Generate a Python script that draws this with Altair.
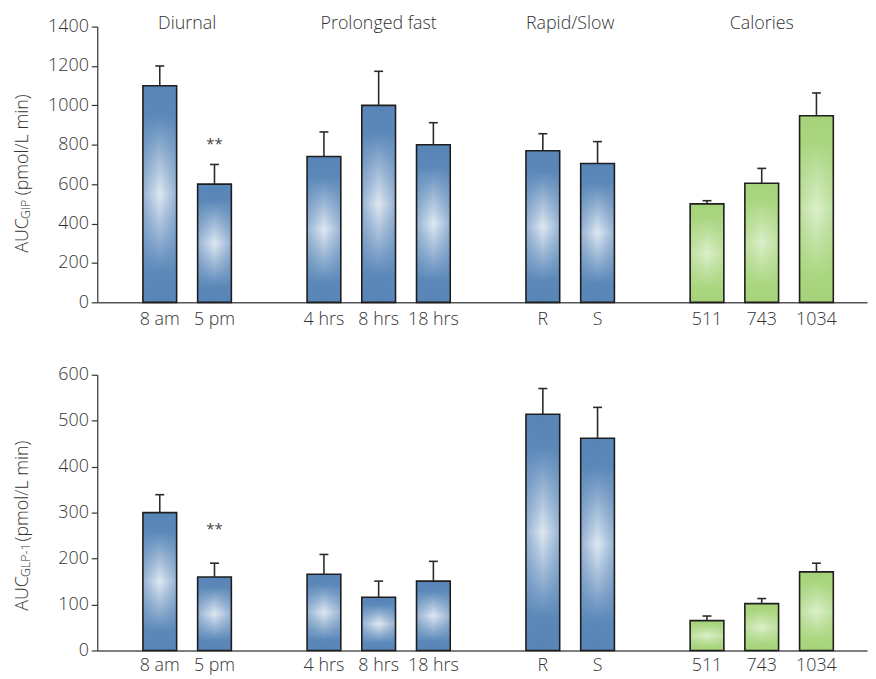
import altair as alt
import pandas as pd

# ---------------- data ----------------
groups = ["Diurnal", "Diurnal",
          "Prolonged fast", "Prolonged fast", "Prolonged fast",
          "Rapid/Slow", "Rapid/Slow",
          "Calories", "Calories", "Calories"]
labels = ["8 am", "5 pm", "4 hrs", "8 hrs", "18 hrs", "R", "S", "511", "743", "1034"]

gip_mean = [1100, 600, 740, 1000, 800, 770, 705, 500, 605, 947]
gip_sem = [100, 100, 125, 173, 112, 86, 111, 16, 75, 116]
gip_sig = ["", "**", "", "", "", "", "", "", "", ""]

glp1_mean = [300, 160, 166, 116, 151, 514, 462, 65, 102, 171]
glp1_sem = [39, 30, 43, 35, 43, 56, 67, 10, 11, 19]
glp1_sig = ["", "**", "", "", "", "", "", "", "", ""]

green_groups = ["Calories"]

# ---------------- layout helpers ----------------
FONT = "Open Sans"
TXT = "#333333"
FW = 300
PLOT_W = 776
PLOT_H = 278

# slot index along x: one empty slot between groups
slots = []
s = 0
for i, g in enumerate(groups):
    if i > 0 and g != groups[i - 1]:
        s += 1
    slots.append(s)
    s += 1


def vgrad(edge, mid, center):
    return {"gradient": "linear", "x1": 0, "y1": 0, "x2": 0, "y2": 1,
            "stops": [{"offset": 0, "color": edge},
                      {"offset": 0.14, "color": mid},
                      {"offset": 0.5, "color": center},
                      {"offset": 0.86, "color": mid},
                      {"offset": 1, "color": edge}]}


def hgrad(rgb, a):
    return {"gradient": "linear", "x1": 0, "y1": 0, "x2": 1, "y2": 0,
            "stops": [{"offset": 0, "color": f"rgba({rgb},{a})"},
                      {"offset": 0.5, "color": f"rgba({rgb},0)"},
                      {"offset": 1, "color": f"rgba({rgb},{a})"}]}


grads = {
    "blue": (vgrad("#5784B6", "#5B88B9", "#DFE8F2"), hgrad("91,136,185", 0.55)),
    "green": (vgrad("#A5D379", "#AAD680", "#DCEFCB"), hgrad("167,212,123", 0.55)),
}


def panel(mean, sem, sig, ymax, ystep, sub, sub_len, show_groups, star_dy, label_dy, title_start):
    tops = [m + e for m, e in zip(mean, sem)]
    df = pd.DataFrame({
        "group": groups, "label": labels, "slot": slots,
        "mean": mean, "top": tops, "sig": sig,
        "tone": ["green" if g in green_groups else "blue" for g in groups],
    })
    base = alt.Chart(df)
    xenc = alt.X("slot:Q",
                 scale=alt.Scale(domain=[-1.142, 12.924], nice=False, zero=False, padding=0),
                 axis=alt.Axis(labels=False, ticks=False, title=None, grid=False,
                               domainColor="#555555", domainWidth=1.5))
    yscale = alt.Scale(domain=[0, ymax], nice=False, zero=True)
    yaxis = alt.Axis(values=list(range(0, ymax + 1, ystep)), format="d", title=None, grid=False,
                     tickSize=6, labelPadding=3, domainColor=TXT, tickColor=TXT,
                     labelColor=TXT, labelFontSize=18, labelFont=FONT, labelFontWeight=FW,
                     domainWidth=1.2, tickWidth=1.2)
    layers = []
    for tone, (vg, hg) in grads.items():
        sub_base = base.transform_filter(alt.datum.tone == tone)
        layers.append(sub_base.mark_bar(orient="vertical", size=34, fill=vg).encode(
            x=xenc, y=alt.Y("mean:Q", scale=yscale, axis=yaxis)))
        layers.append(sub_base.mark_bar(orient="vertical", size=34, fill=hg,
                                        stroke="#1e1e1e", strokeWidth=1.6).encode(
            x=xenc, y=alt.Y("mean:Q", scale=yscale, axis=yaxis)))
    layers.append(base.mark_rule(color="#2b2b2b", strokeWidth=1.6).encode(
        x=xenc, y=alt.Y("mean:Q", scale=yscale, axis=yaxis), y2="top:Q"))
    layers.append(base.mark_tick(orient="horizontal", size=9, thickness=1.6,
                                 color="#2b2b2b", opacity=1).encode(
        x=xenc, y=alt.Y("top:Q", scale=yscale, axis=yaxis)))
    layers.append(base.transform_filter(alt.datum.sig != "").mark_text(
        dy=star_dy, fontSize=15, font=FONT, color="#444444", baseline="middle").encode(
        x=xenc, y=alt.Y("top:Q", scale=yscale, axis=yaxis), text="sig:N"))
    layers.append(base.mark_text(fontSize=18, font=FONT, fontWeight=FW, color=TXT,
                                 baseline="middle").encode(
        x=xenc, y=alt.value(PLOT_H + label_dy), text="label:N"))
    if show_groups:
        layers.append(base.transform_aggregate(slot="mean(slot)", groupby=["group"]).mark_text(
            fontSize=18, font=FONT, fontWeight=FW, color=TXT, baseline="middle").encode(
            x=xenc, y=alt.value(-3), text="group:N"))
    # y-axis title with subscript, built from text pieces
    parts = [("AUC", 18, -70, title_start),
             (sub, 12.5, -68, title_start - 34),
             ("(pmol/L min)", 18, -70, title_start - 34 - sub_len - 5)]
    for t, fs, px, py in parts:
        layers.append(alt.Chart(pd.DataFrame({"t": [t]})).mark_text(
            angle=270, align="left", baseline="alphabetic", fontSize=fs, font=FONT,
            fontWeight=FW, color=TXT).encode(
            text="t:N", x=alt.value(px), y=alt.value(py)))
    return alt.layer(*layers).properties(width=PLOT_W, height=PLOT_H)


top = panel(gip_mean, gip_sem, gip_sig, 1400, 200, "GIP", 19, True, -21, 18, 228)
bottom = panel(glp1_mean, glp1_sem, glp1_sig, 600, 100, "GLP-1", 31, False, -34, 16, 238)

chart = alt.vconcat(top, bottom, spacing=73, bounds="flush").properties(
    padding={"left": 5, "top": 3, "right": 0, "bottom": 0}
).configure_view(stroke="transparent")

chart.save("out.html", embed_options={"renderer": "svg", "actions": False})
